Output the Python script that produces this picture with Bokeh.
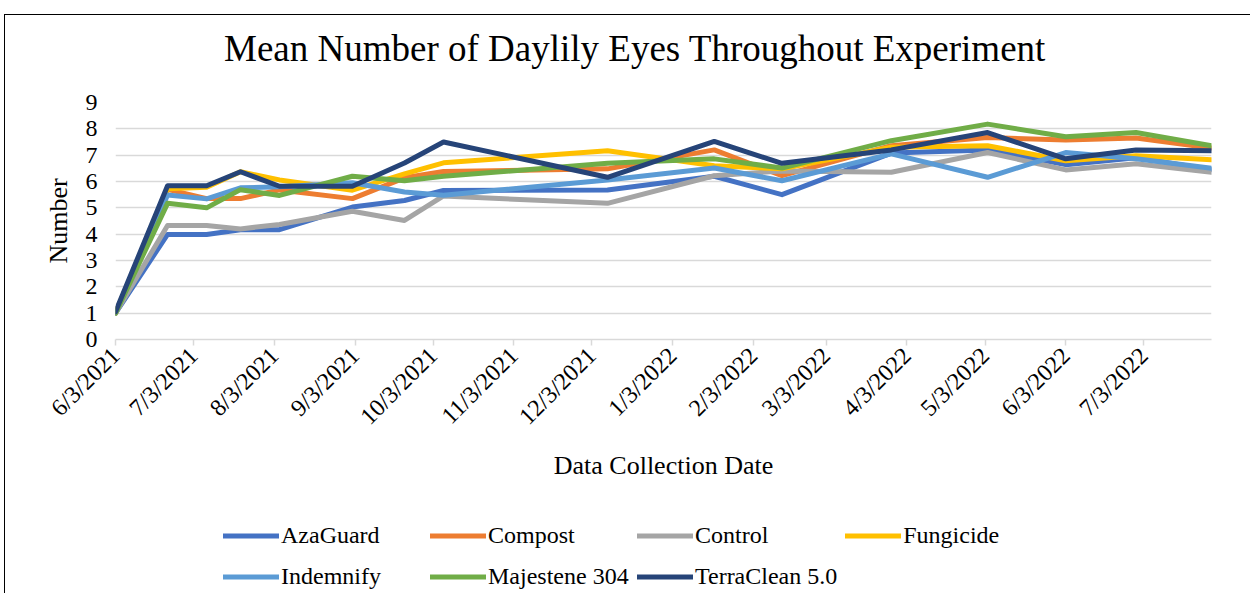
import pandas as pd
from bokeh.plotting import figure
from bokeh.layouts import column
from bokeh.models import (ColumnDataSource, Range1d, FixedTicker, SingleIntervalTicker,
                          CustomJSTickFormatter, Legend, LegendItem, Label)
from bokeh.embed import file_html
from bokeh.resources import INLINE

# ---------------- data ----------------
dates = ["2021-06-03", "2021-06-23", "2021-07-08", "2021-07-21", "2021-08-05",
         "2021-09-02", "2021-09-22", "2021-10-07", "2021-12-09", "2022-01-19",
         "2022-02-14", "2022-03-28", "2022-05-04", "2022-06-03", "2022-06-30",
         "2022-07-29"]

aza_guard   = [1.0, 3.99, 3.99, 4.17, 4.17, 5.03, 5.28, 5.66, 5.68, 6.2, 5.5, 7.08, 7.2, 6.64, 6.9, 6.45]
compost     = [1.0, 5.7, 5.35, 5.35, 5.68, 5.35, 6.14, 6.38, 6.48, 7.2, 6.22, 7.36, 7.67, 7.58, 7.65, 7.27]
control     = [1.0, 4.33, 4.33, 4.2, 4.37, 4.87, 4.52, 5.45, 5.17, 6.22, 6.4, 6.35, 7.1, 6.44, 6.67, 6.35]
fungicide   = [1.0, 5.72, 5.78, 6.37, 6.06, 5.67, 6.29, 6.71, 7.17, 6.6, 6.48, 7.3, 7.36, 6.79, 6.98, 6.83]
indemnify   = [1.0, 5.49, 5.34, 5.76, 5.8, 5.95, 5.6, 5.48, 6.06, 6.51, 6.03, 7.05, 6.16, 7.1, 6.86, 6.5]
majestene   = [1.0, 5.17, 5.0, 5.69, 5.47, 6.2, 6.03, 6.2, 6.69, 6.86, 6.51, 7.55, 8.18, 7.7, 7.86, 7.36]
terraclean  = [1.05, 5.84, 5.84, 6.37, 5.82, 5.82, 6.7, 7.5, 6.16, 7.52, 6.69, 7.2, 7.86, 6.86, 7.2, 7.17]

series_names = ["AzaGuard", "Compost", "Control", "Fungicide", "Indemnify",
                "Majestene 304", "TerraClean 5.0"]
series_values = [aza_guard, compost, control, fungicide, indemnify, majestene, terraclean]
series_colors = ["#4472C4", "#ED7D31", "#A5A5A5", "#FFC000", "#5B9BD5", "#70AD47", "#264478"]

chart_title = "Mean Number of Daylily Eyes Throughout Experiment"
y_ticks = list(range(0, 10))
x_tick_dates = pd.date_range(start="2021-06-03", periods=14, freq=pd.DateOffset(months=1))

# ---------------- figures ----------------
FONT = "Liberation Serif"
LW = 5
xs = pd.to_datetime(dates)
data = {"date": xs}
for n, v in zip(series_names, series_values):
    data[n] = v
source = ColumnDataSource(data)

W = 1245

# title panel
pt = figure(width=W, height=70, output_backend="svg", toolbar_location=None,
            x_range=Range1d(0, 1), y_range=Range1d(0, 1),
            x_axis_location=None, y_axis_location=None, title=None,
            min_border_left=0, min_border_right=0, min_border_top=0, min_border_bottom=0)
pt.outline_line_color = None
pt.xgrid.grid_line_color = None
pt.ygrid.grid_line_color = None
pt.add_layout(Label(x=0.474, y=0.53, text=chart_title, text_align="center",
                    text_baseline="middle", text_font=FONT, text_font_size="37px",
                    text_color="#000000"))

# main chart
p = figure(width=W, height=420, x_axis_type="datetime",
           output_backend="svg", toolbar_location=None, title=None,
           x_range=Range1d(xs.min(), xs.max()), y_range=Range1d(0, 9),
           min_border_left=110, min_border_right=39, min_border_top=17,
           min_border_bottom=166)
p.outline_line_color = None
p.background_fill_color = "white"
p.border_fill_color = "white"

renderers = []
for n, c in zip(series_names, series_colors):
    r = p.line(x="date", y=n, source=source, line_color=c, line_width=LW,
               line_join="round", line_cap="round")
    renderers.append(r)

p.xgrid.grid_line_color = None
p.ygrid.grid_line_color = "#d9d9d9"
p.ygrid.grid_line_width = 1.5
p.ygrid.ticker = SingleIntervalTicker(interval=1)

p.yaxis.ticker = FixedTicker(ticks=y_ticks)
p.yaxis.axis_line_color = None
p.yaxis.major_tick_line_color = None
p.yaxis.minor_tick_line_color = None
p.yaxis.major_tick_out = 0
p.yaxis.major_label_standoff = 18
p.yaxis.major_label_text_font = FONT
p.yaxis.major_label_text_font_size = "24px"
p.yaxis.major_label_text_color = "#000000"
p.yaxis.axis_label = "Number"
p.yaxis.axis_label_text_font = FONT
p.yaxis.axis_label_text_font_size = "26px"
p.yaxis.axis_label_text_font_style = "normal"
p.yaxis.axis_label_text_color = "#000000"
p.yaxis.axis_label_standoff = 10

p.xaxis.ticker = FixedTicker(ticks=[d.value / 1e6 for d in x_tick_dates])
p.xaxis.formatter = CustomJSTickFormatter(code="""
const d = new Date(tick);
return (d.getUTCMonth() + 1) + "/" + d.getUTCDate() + "/" + d.getUTCFullYear();
""")
p.xaxis.major_label_orientation = 0.785398
p.xaxis.axis_line_color = "#d9d9d9"
p.xaxis.axis_line_width = 1.5
p.xaxis.major_tick_line_color = "#d9d9d9"
p.xaxis.major_tick_line_width = 1.5
p.xaxis.major_tick_out = 6
p.xaxis.major_tick_in = 0
p.xaxis.minor_tick_line_color = None
p.xaxis.major_label_text_font = FONT
p.xaxis.major_label_text_font_size = "24px"
p.xaxis.major_label_text_color = "#000000"
p.xaxis.major_label_standoff = 6
p.xaxis.axis_label = "Data Collection Date"
p.xaxis.axis_label_text_font = FONT
p.xaxis.axis_label_text_font_size = "26px"
p.xaxis.axis_label_text_font_style = "normal"
p.xaxis.axis_label_text_color = "#000000"
p.xaxis.axis_label_standoff = 9

# legend panel
pl = figure(width=W, height=88, output_backend="svg", toolbar_location=None,
            x_axis_location=None, y_axis_location=None, title=None,
            min_border_left=0, min_border_right=0, min_border_top=0, min_border_bottom=0)
pl.outline_line_color = None
pl.xgrid.grid_line_color = None
pl.ygrid.grid_line_color = None
legend_renderers = []
for n, c in zip(series_names, series_colors):
    r = pl.line(x="date", y=n, source=source, line_color=c, line_width=LW,
                line_join="round", line_cap="round", visible=False)
    legend_renderers.append(r)

legend = Legend(items=[LegendItem(label=n, renderers=[r]) for n, r in zip(series_names, legend_renderers)],
                location=(108, 0), orientation="horizontal", ncols=4,
                glyph_width=56, glyph_height=33, label_height=33, label_width=141,
                label_standoff=2, spacing=8, padding=0, margin=0,
                label_text_font=FONT, label_text_font_size="24px",
                label_text_color="#000000", click_policy="none",
                border_line_color=None, background_fill_alpha=0)
pl.add_layout(legend, "center")

layout = column(pt, p, pl, spacing=0,
                styles={"margin-left": "4px", "margin-top": "14px",
                        "border-left": "1px solid #000", "border-top": "1px solid #000"})

open("out.html", "w").write(file_html(layout, INLINE))
